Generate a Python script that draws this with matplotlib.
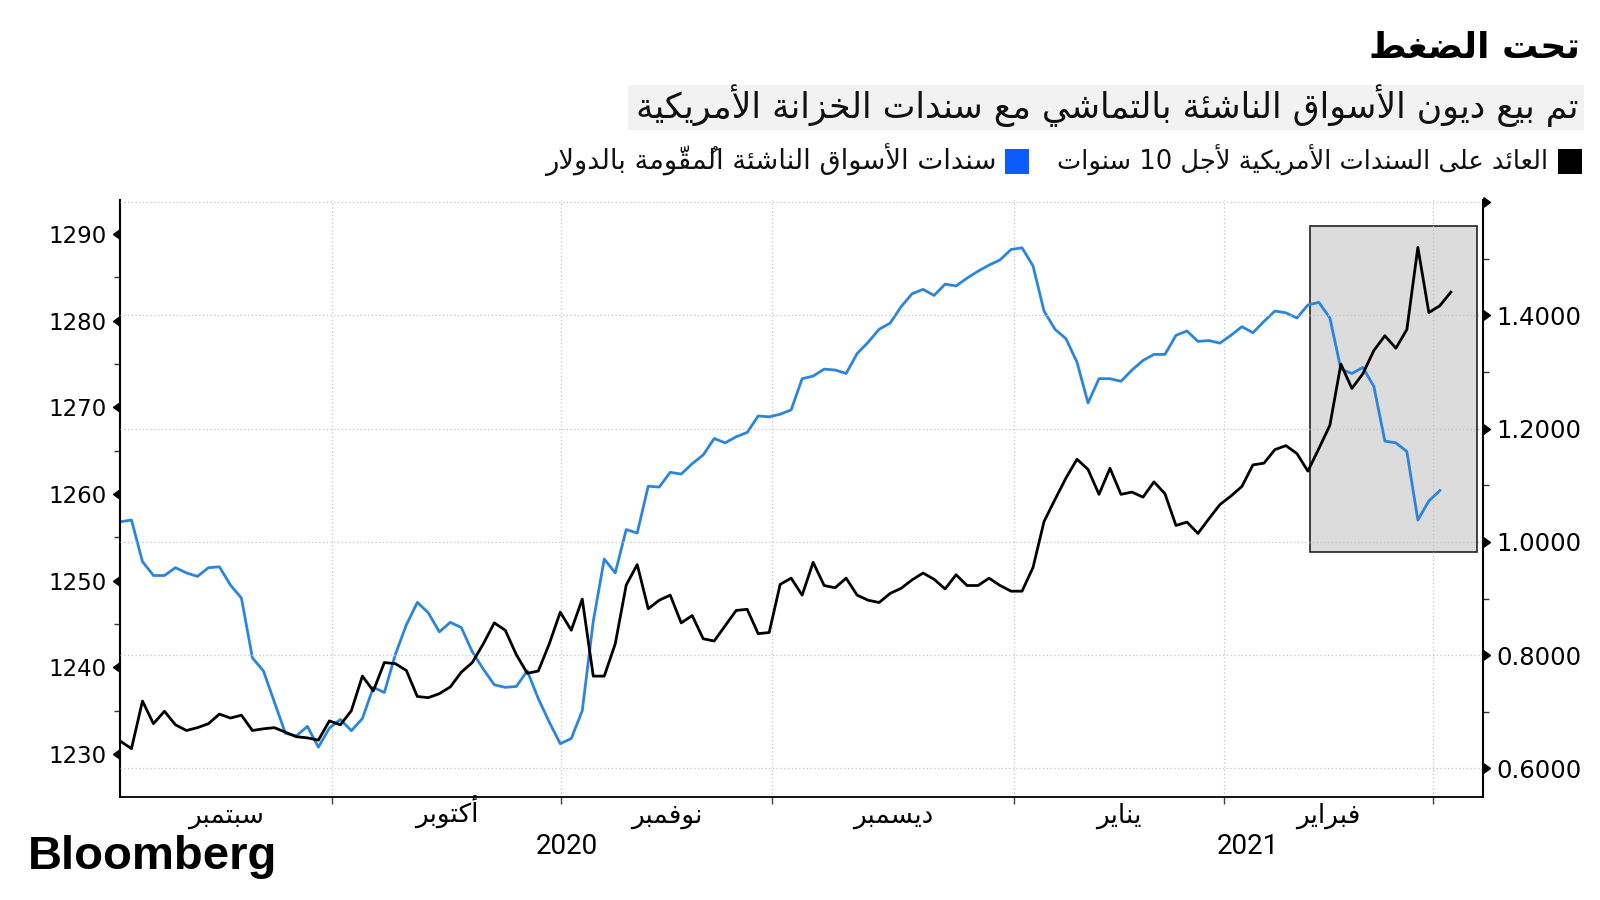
import numpy as np
import matplotlib
matplotlib.use('Agg')
import matplotlib.pyplot as plt
from matplotlib.patches import Rectangle
from matplotlib.markers import CARETLEFTBASE, CARETRIGHTBASE
from matplotlib.transforms import blended_transform_factory

# EM dollar bonds index (left axis), one value per trading day
em_bonds = [1256.8, 1257.0, 1252.2, 1250.6, 1250.6, 1251.5, 1250.9, 1250.5, 1251.5, 1251.6,
            1249.5, 1248.0, 1241.1, 1239.6, 1236.0, 1232.4, 1232.1, 1233.2, 1230.8, 1233.0,
            1234.0, 1232.7, 1234.1, 1237.7, 1237.1, 1241.5, 1244.9, 1247.5, 1246.3, 1244.1,
            1245.2, 1244.6, 1241.8, 1239.8, 1238.0, 1237.7, 1237.8, 1239.6, 1236.4, 1233.7,
            1231.2, 1231.8, 1235.0, 1245.3, 1252.5, 1250.9, 1255.9, 1255.5, 1260.9, 1260.8,
            1262.5, 1262.3, 1263.5, 1264.5, 1266.4, 1265.9, 1266.6, 1267.1, 1269.0, 1268.9,
            1269.2, 1269.7, 1273.3, 1273.6, 1274.4, 1274.3, 1273.9, 1276.2, 1277.5, 1279.0,
            1279.7, 1281.6, 1283.1, 1283.6, 1282.9, 1284.2, 1284.0, 1284.9, 1285.7, 1286.4,
            1287.0, 1288.2, 1288.4, 1286.3, 1281.1, 1279.0, 1277.9, 1275.2, 1270.5, 1273.3,
            1273.3, 1273.0, 1274.3, 1275.4, 1276.1, 1276.1, 1278.3, 1278.8, 1277.6, 1277.7,
            1277.4, 1278.3, 1279.3, 1278.6, 1279.9, 1281.1, 1280.9, 1280.3, 1281.8, 1282.1,
            1280.3, 1274.4, 1273.9, 1274.6, 1272.4, 1266.1, 1265.9, 1264.9, 1257.0, 1259.2,
            1260.4]

# US 10y treasury yield (right axis)
ust_10y = [0.648, 0.635, 0.719, 0.679, 0.701, 0.677, 0.667, 0.672, 0.679, 0.696,
           0.689, 0.694, 0.667, 0.670, 0.672, 0.664, 0.656, 0.654, 0.650, 0.684,
           0.677, 0.702, 0.763, 0.737, 0.787, 0.785, 0.773, 0.727, 0.725, 0.732,
           0.744, 0.770, 0.787, 0.820, 0.857, 0.844, 0.801, 0.768, 0.772, 0.820,
           0.876, 0.844, 0.899, 0.763, 0.763, 0.820, 0.924, 0.960, 0.882, 0.897,
           0.906, 0.857, 0.870, 0.829, 0.825, 0.852, 0.879, 0.881, 0.838, 0.840,
           0.925, 0.936, 0.906, 0.964, 0.923, 0.919, 0.936, 0.906, 0.897, 0.893,
           0.909, 0.918, 0.933, 0.945, 0.934, 0.917, 0.942, 0.923, 0.923, 0.936,
           0.923, 0.913, 0.913, 0.955, 1.036, 1.075, 1.113, 1.146, 1.128, 1.084,
           1.130, 1.084, 1.088, 1.079, 1.106, 1.085, 1.029, 1.035, 1.015, 1.041,
           1.066, 1.081, 1.098, 1.136, 1.139, 1.163, 1.170, 1.156, 1.125, 1.165,
           1.206, 1.314, 1.271, 1.297, 1.338, 1.364, 1.342, 1.375, 1.520, 1.405,
           1.417, 1.441]

month_names = ['سبتمبر', 'أكتوبر', 'نوفمبر', 'ديسمبر', 'يناير', 'فبراير']
month_starts = [19.23, 40.09, 59.27, 81.27, 100.36, 119.36]  # day index of 1st of Oct..Mar
year_labels = ['2020', '2021']

left_ticks = [1230, 1240, 1250, 1260, 1270, 1280, 1290]
right_ticks = [0.6, 0.8, 1.0, 1.2, 1.4, 1.6]

title = 'تحت الضغط'
subtitle = 'تم بيع ديون الأسواق الناشئة بالتماشي مع سندات الخزانة الأمريكية'
label_ust = 'العائد على السندات الأمريكية لأجل 10 سنوات'
label_em = 'سندات الأسواق الناشئة المُقوّمة بالدولار'


# --- tiny arabic shaper: matplotlib has no shaping / bidi ---
DUAL = {'ئ': 0xFE89, 'ب': 0xFE8F, 'ت': 0xFE95, 'ث': 0xFE99, 'ج': 0xFE9D, 'ح': 0xFEA1,
        'خ': 0xFEA5, 'س': 0xFEB1, 'ش': 0xFEB5, 'ص': 0xFEB9, 'ض': 0xFEBD, 'ط': 0xFEC1,
        'ظ': 0xFEC5, 'ع': 0xFEC9, 'غ': 0xFECD, 'ف': 0xFED1, 'ق': 0xFED5, 'ك': 0xFED9,
        'ل': 0xFEDD, 'م': 0xFEE1, 'ن': 0xFEE5, 'ه': 0xFEE9, 'ي': 0xFEF1}
RIGHT = {'آ': 0xFE81, 'أ': 0xFE83, 'ؤ': 0xFE85, 'إ': 0xFE87, 'ا': 0xFE8D, 'ة': 0xFE93,
         'د': 0xFEA9, 'ذ': 0xFEAB, 'ر': 0xFEAD, 'ز': 0xFEAF, 'و': 0xFEED, 'ى': 0xFEEF}
LAM_ALEF = {'آ': 0xFEF5, 'أ': 0xFEF7, 'إ': 0xFEF9, 'ا': 0xFEFB}


def is_mark(c):
    return '\u064b' <= c <= '\u0652' or c == '\u0670'


def ar(text):
    chars = list(text)
    n = len(chars)

    def neighbour(k, step):
        j = k + step
        while 0 <= j < n and is_mark(chars[j]):
            j += step
        return (chars[j], j) if 0 <= j < n else (None, -1)

    out = []
    i = 0
    while i < n:
        c = chars[i]
        if is_mark(c):
            out[-1] += c
            i += 1
            continue
        p, _ = neighbour(i, -1)
        nxt, nj = neighbour(i, 1)
        jp = p in DUAL and (c in DUAL or c in RIGHT)
        if c == 'ل' and nxt in LAM_ALEF:
            out.append(chr(LAM_ALEF[nxt] + (1 if jp else 0)))
            i = nj + 1
            continue
        jn = c in DUAL and (nxt in DUAL or nxt in RIGHT)
        if c in DUAL:
            out.append(chr(DUAL[c] + (3 if jp and jn else 1 if jp else 2 if jn else 0)))
        elif c in RIGHT:
            out.append(chr(RIGHT[c] + (1 if jp else 0)))
        else:
            out.append(c)
        i += 1
    out.reverse()
    # numbers stay left-to-right
    res, run = [], []
    for cl in out:
        if cl.isdigit():
            run.append(cl)
        else:
            res.extend(reversed(run))
            run = []
            res.append(cl)
    res.extend(reversed(run))
    return ''.join(res)


plt.rcParams['font.family'] = ['DejaVu Sans']

fig = plt.figure(figsize=(16, 9), dpi=100)
ax = fig.add_axes([0.0753, 0.1144, 0.8514, 0.6633])
ax2 = ax.twinx()

x_em = np.arange(len(em_bonds))
x_ust = np.arange(len(ust_10y))

ax.plot(x_em, em_bonds, color='#2b85de', lw=2.0, zorder=2)
ax2.plot(x_ust, ust_10y, color='black', lw=2.0, zorder=2)

# highlight box over the last weeks
ax.add_patch(Rectangle((108.2, 0.982), 15.2, 0.575, transform=ax2.transData,
                       facecolor='#dcdcdc', edgecolor='#222222', lw=1.2, zorder=1))

for s in ['top', 'right']:
    ax.spines[s].set_visible(False)
for s in ['top', 'left', 'bottom']:
    ax2.spines[s].set_visible(False)
ax.spines['left'].set_linewidth(1.5)
ax.spines['bottom'].set_linewidth(1.3)
ax2.spines['right'].set_linewidth(1.5)

# grids
grid_kw = dict(color='#c4c4c4', linestyle=(0, (1, 2)), linewidth=0.9)
ax.set_axisbelow('line')
ax.grid(axis='x', which='major', **grid_kw)
ax.grid(axis='y', visible=False)
ax2.grid(axis='y', which='major', **grid_kw)

# left axis
ax.set_yticks(left_ticks)
ax.set_yticklabels([str(v) for v in left_ticks])
ax.set_yticks([v + 5 for v in left_ticks[:-1]], minor=True)
ax.tick_params(axis='y', which='major', length=6, width=1, pad=4, labelsize=16.5, colors='black')
ax.tick_params(axis='y', which='minor', length=4, width=1, color='#333333')
for t in ax.yaxis.get_major_ticks():
    t.tick1line.set_marker(CARETLEFTBASE)
    t.tick1line.set_markersize(7)
    t.tick1line.set_markerfacecolor('black')
    t.tick1line.set_markeredgecolor('black')

# right axis
ax2.set_yticks(right_ticks)
ax2.set_yticklabels(['%.4f' % v for v in right_ticks[:-1]] + [''])
ax2.set_yticks([v + 0.1 for v in right_ticks[:-1]], minor=True)
ax2.tick_params(axis='y', which='major', length=6, width=1, pad=4, labelsize=17.5, colors='black')
ax2.tick_params(axis='y', which='minor', length=4, width=1, color='#333333')
for t in ax2.yaxis.get_major_ticks():
    t.tick2line.set_marker(CARETRIGHTBASE)
    t.tick2line.set_markersize(7)
    t.tick2line.set_markerfacecolor('black')
    t.tick2line.set_markeredgecolor('black')

# x axis: ticks at month starts, names centred in between
ax.set_xticks(month_starts)
ax.set_xticklabels([''] * len(month_starts))
ax.tick_params(axis='x', which='major', length=5, width=1, color='#444444', direction='out')

# limits last (set_yticks may widen them)
ax.set_xlim(0, 123.9)
ax.set_ylim(1225.05, 1293.9)
ax2.set_ylim(0.5495, 1.6036)

edges = [0] + month_starts
centers = [(a + b) / 2 for a, b in zip(edges[:-1], edges[1:])]
trans = blended_transform_factory(ax.transData, fig.transFigure)
for c, m in zip(centers, month_names):
    ax.text(c, 1 - 823 / 900, ar(m), transform=trans, ha='center', va='baseline',
            fontsize=19, color='black')

year_pos = [(0 + month_starts[3]) / 2, (month_starts[3] + ax.get_xlim()[1]) / 2]
for yp, yl in zip(year_pos, year_labels):
    ax.text(yp, 1 - 847 / 900, yl, transform=trans, ha='center', va='center',
            fontsize=20, family='Roboto', color='black')

# headline block
fig.text(1580 / 1600, 1 - 48 / 900, ar(title), ha='right', va='center',
         fontsize=26, fontweight='bold', color='black')
fig.add_artist(Rectangle((627.6 / 1600, 1 - 129.6 / 900), 956 / 1600, 45 / 900,
                         transform=fig.transFigure, facecolor='#f2f2f2', edgecolor='none'))
fig.text(1578 / 1600, 1 - 106 / 900, ar(subtitle), ha='right', va='center',
         fontsize=25, color='#111111')

# legend
fig.add_artist(Rectangle((1558 / 1600, 1 - 173.5 / 900), 24 / 1600, 24.5 / 900,
                         transform=fig.transFigure, facecolor='black', edgecolor='none'))
fig.text(1548 / 1600, 1 - 160 / 900, ar(label_ust), ha='right', va='center',
         fontsize=18.5, color='#111111')
fig.add_artist(Rectangle((1005 / 1600, 1 - 173.5 / 900), 24 / 1600, 24.5 / 900,
                         transform=fig.transFigure, facecolor='#0a5cff', edgecolor='none'))
fig.text(997 / 1600, 1 - 160 / 900, ar(label_em), ha='right', va='center',
         fontsize=19.7, color='#111111')

fig.text(28 / 1600, 1 - 857 / 900, 'Bloomberg', ha='left', va='center',
         fontsize=34, fontweight='bold', family='Liberation Sans', color='black')

plt.savefig('out.png', dpi=100)
